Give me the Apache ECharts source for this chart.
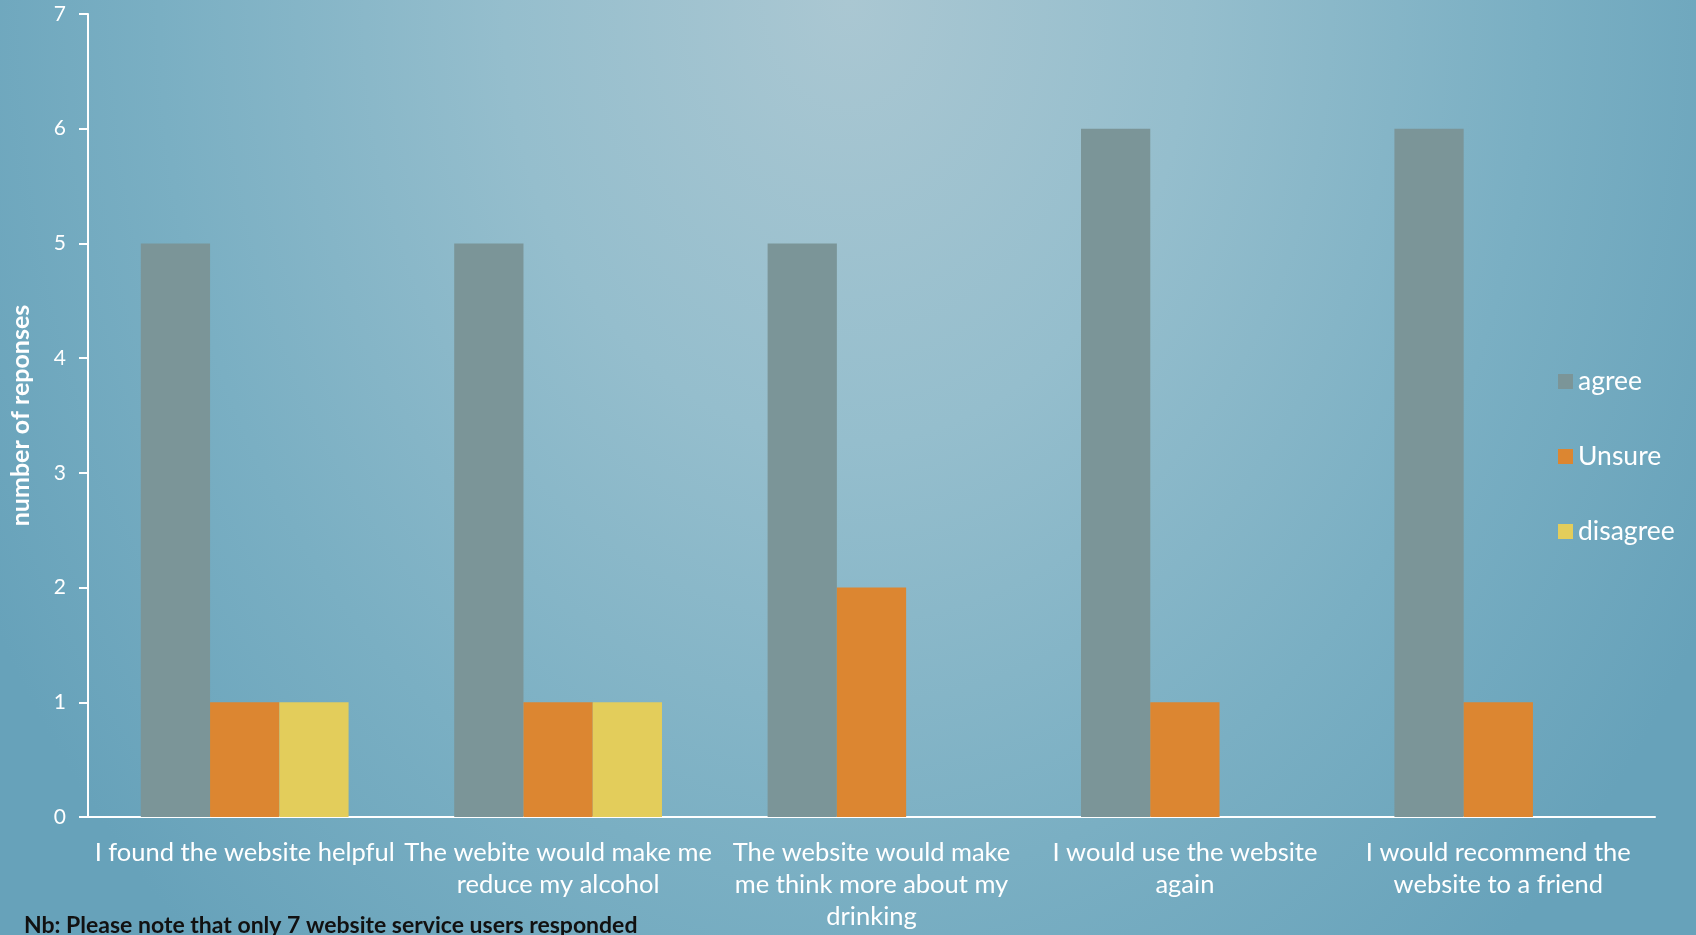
<!DOCTYPE html>
<html>
<head>
<meta charset="utf-8">
<script src="https://cdn.jsdelivr.net/npm/echarts@6/dist/echarts.min.js"></script>
<style>
html,body{margin:0;padding:0;}
#c{width:1696px;height:935px;
  background: radial-gradient(ellipse 58% 135% at 50% 0%, #aac7d2 0%, #95becd 35%, #7aafc3 70%, #67a2ba 100%);}
</style>
</head>
<body>
<div id="c"></div>
<script>
const categories = [
  'I found the website helpful',
  'The webite would make me\nreduce my alcohol',
  'The website would make\nme think more about my\ndrinking',
  'I would use the website\nagain',
  'I would recommend the\nwebsite to a friend'
];
const agree = [5, 5, 5, 6, 6];
const unsure = [1, 1, 2, 1, 1];
const disagree = [1, 1, 0, 0, 0];
const yTicks = [0, 1, 2, 3, 4, 5, 6, 7];
const note = 'Nb: Please note that only 7 website service users responded';

const font = 'Lato';
const chart = echarts.init(document.getElementById('c'));
chart.setOption({
  backgroundColor: 'transparent',
  textStyle: {fontFamily: font},
  grid: {left: 85, right: 41, top: 14, bottom: 118, containLabel: false},
  legend: {
    orient: 'vertical',
    left: 1553, top: 363,
    itemWidth: 15, itemHeight: 15, itemGap: 48,
    icon: 'rect',
    textStyle: {color: '#ffffff', fontSize: 26.5, fontFamily: font},
    data: ['agree', 'Unsure', 'disagree']
  },
  xAxis: {
    type: 'category',
    data: categories,
    axisLine: {lineStyle: {color: '#ffffff', width: 2}},
    axisTick: {show: false},
    axisLabel: {color: '#ffffff', fontSize: 25.5, lineHeight: 32, margin: 20, interval: 0, fontFamily: font}
  },
  yAxis: {
    type: 'value',
    min: yTicks[0], max: yTicks[yTicks.length - 1], interval: 1,
    name: 'number of reponses',
    nameLocation: 'middle',
    nameGap: 55,
    nameTextStyle: {color: '#ffffff', fontSize: 25, fontWeight: 'bold', fontFamily: font},
    axisLine: {show: true, lineStyle: {color: '#ffffff', width: 2}},
    axisTick: {show: true, inside: false, length: 9, lineStyle: {color: '#ffffff', width: 2}},
    axisLabel: {color: '#ffffff', fontSize: 21, margin: 22, fontFamily: font},
    splitLine: {show: false}
  },
  series: [
    {name: 'agree', type: 'bar', data: agree, itemStyle: {color: '#7b9598'}, barGap: '0%', barCategoryGap: '33.7%'},
    {name: 'Unsure', type: 'bar', data: unsure, itemStyle: {color: '#dc8631'}},
    {name: 'disagree', type: 'bar', data: disagree, itemStyle: {color: '#e3cd5b'}}
  ],
  graphic: [{
    type: 'text', left: 24, top: 914,
    style: {text: note, fill: '#111111', font: 'bold 23px Lato'}
  }]
});
</script>
</body>
</html>
